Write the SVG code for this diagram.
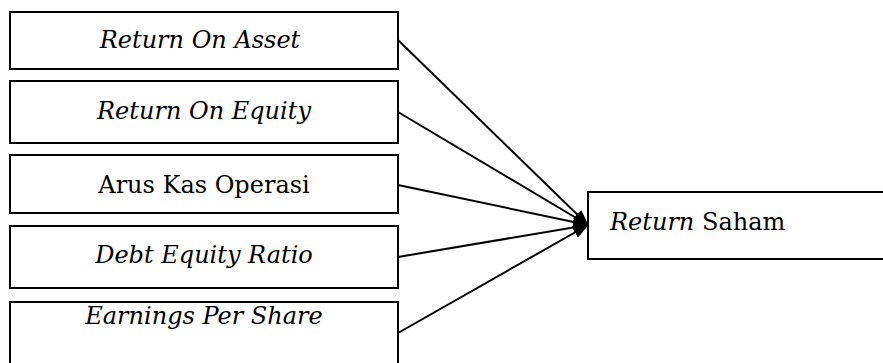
<svg xmlns="http://www.w3.org/2000/svg" width="883" height="363" viewBox="0 0 883 363">
  <style>
    .box { fill: #fff; stroke: #000; stroke-width: 2; }
    .lbl { font-family: 'DejaVu Serif', 'Liberation Serif', 'Times New Roman', serif; font-size: 24px; fill: #000; text-anchor: middle; }
    .it { font-style: italic; }
    .edge { stroke: #000; stroke-width: 2; fill: none; marker-end: url(#head); }
  </style>
  <defs>
    <marker id="head" viewBox="0 0 16 12" refX="15" refY="6" markerWidth="16" markerHeight="12" markerUnits="userSpaceOnUse" orient="auto">
      <path d="M0,0 L16,6 L0,12 z" fill="#000"/>
    </marker>
  </defs>
  <rect width="883" height="363" fill="#fff"/>

  <g id="roa">
    <rect class="box" x="10" y="12" width="388" height="57"/>
    <text class="lbl it" x="200" y="48">Return On Asset</text>
  </g>
  <g id="roe">
    <rect class="box" x="10" y="81" width="388" height="62"/>
    <text class="lbl it" x="204" y="119">Return On Equity</text>
  </g>
  <g id="aruskas">
    <rect class="box" x="10" y="155" width="388" height="58"/>
    <text class="lbl" x="204" y="193">Arus Kas Operasi</text>
  </g>
  <g id="der">
    <rect class="box" x="10" y="226" width="388" height="62"/>
    <text class="lbl it" x="204" y="263">Debt Equity Ratio</text>
  </g>
  <g id="eps">
    <rect class="box" x="10" y="302" width="388" height="70"/>
    <text class="lbl it" x="204" y="324">Earnings Per Share</text>
  </g>
  <g id="saham">
    <rect class="box" x="588" y="192" width="310" height="67"/>
    <text class="lbl" x="610" y="230" style="text-anchor:start"><tspan class="it">Return</tspan> Saham</text>
  </g>

  <g id="connectors">
    <line class="edge" x1="398" y1="40" x2="588" y2="225"/>
    <line class="edge" x1="398" y1="112" x2="588" y2="225"/>
    <line class="edge" x1="398" y1="185" x2="588" y2="225"/>
    <line class="edge" x1="398" y1="257" x2="588" y2="225"/>
    <line class="edge" x1="398" y1="333" x2="588" y2="225"/>
  </g>
</svg>
